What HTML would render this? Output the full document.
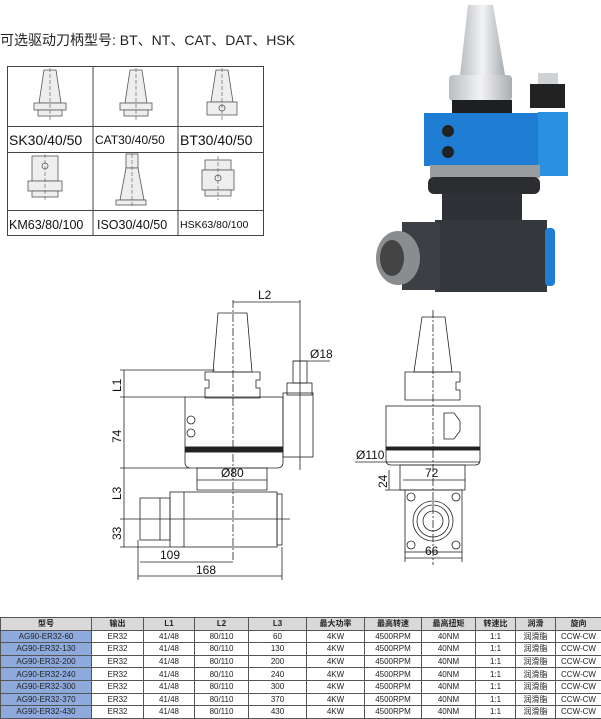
<!DOCTYPE html>
<html><head><meta charset="utf-8"><style>
body{margin:0;background:#fff;width:601px;height:719px;overflow:hidden;position:relative;font-family:"Liberation Sans","Noto Sans CJK SC",sans-serif}
svg{position:absolute;left:0;top:0}
table{position:absolute;left:0;top:617px;border-collapse:collapse;font-size:8px;width:601px;table-layout:fixed}
td{border:1px solid #555;text-align:center;height:11.6px;padding:0;line-height:11px;color:#222}
tr.h td{background:#d9d9d9;font-weight:bold}
td.m{background:#8eaadc}
</style></head><body>
<svg width="601" height="719" viewBox="0 0 601 719" font-family="Liberation Sans, Noto Sans CJK SC, sans-serif">
<defs><linearGradient id="sv" x1="0" x2="1"><stop offset="0" stop-color="#b9bdc1"/><stop offset="0.5" stop-color="#f2f3f4"/><stop offset="1" stop-color="#a9adb1"/></linearGradient></defs>
<text x="0" y="45" font-size="14" fill="#222">可选驱动刀柄型号: BT、NT、CAT、DAT、HSK</text>
<!-- grid -->
<g stroke="#444" fill="none" stroke-width="1">
<rect x="7.5" y="66.5" width="256" height="169"/>
<line x1="93" y1="66" x2="93" y2="236"/><line x1="178" y1="66" x2="178" y2="236"/>
<line x1="7" y1="126.5" x2="264" y2="126.5"/><line x1="7" y1="152.5" x2="264" y2="152.5"/><line x1="7" y1="210.5" x2="264" y2="210.5"/>
</g>
<g font-size="14" fill="#111"><text x="9" y="145">SK30/40/50</text><text x="180" y="145">BT30/40/50</text><text x="9" y="229" font-size="12.5">KM63/80/100</text></g>
<text x="95" y="144" font-size="12" fill="#111">CAT30/40/50</text>
<text x="97" y="229" font-size="12.5" fill="#111">ISO30/40/50</text>
<text x="180" y="228" font-size="10.5" fill="#111">HSK63/80/100</text>
<g fill="#eee" stroke="#555" stroke-width="0.8">
<path d="M44 70h12l5 33h-22z"/><rect x="34" y="103" width="32" height="7"/><rect x="38" y="110" width="24" height="6"/>
<path d="M130 70h12l5 33h-22z"/><rect x="120" y="103" width="32" height="7"/><rect x="124" y="110" width="24" height="6"/>
<path d="M216 70h12l5 32h-22z"/><rect x="207" y="102" width="30" height="13"/><circle cx="222" cy="108" r="3"/>
<rect x="32" y="156" width="26" height="25"/><circle cx="45" cy="166" r="3"/><rect x="28" y="181" width="34" height="10"/><rect x="32" y="191" width="26" height="6"/>
<rect x="126" y="154" width="12" height="14"/><path d="M126 168h12l6 32h-24z"/><rect x="116" y="200" width="30" height="5"/>
<rect x="205" y="160" width="26" height="10"/><rect x="202" y="170" width="32" height="20"/><circle cx="218" cy="178" r="3"/><rect x="205" y="190" width="26" height="6"/>
</g>
<g stroke="#555" stroke-width="0.6" stroke-dasharray="4 2"><line x1="50" y1="68" x2="50" y2="120"/><line x1="136" y1="68" x2="136" y2="120"/><line x1="222" y1="68" x2="222" y2="120"/><line x1="45" y1="154" x2="45" y2="200"/><line x1="132" y1="154" x2="132" y2="206"/><line x1="218" y1="156" x2="218" y2="200"/></g>
<!-- photo -->
<path d="M468 5h25l12 70h-45z" fill="url(#sv)"/>
<rect x="449" y="75" width="63" height="26" rx="4" fill="url(#sv)"/>
<rect x="452" y="100" width="60" height="14" fill="#1e1f22"/>
<rect x="538" y="73" width="20" height="12" fill="#cfd2d5"/>
<rect x="530" y="84" width="35" height="24" fill="#222"/>
<rect x="424" y="113" width="118" height="53" fill="#1f7ed3"/>
<rect x="538" y="112" width="30" height="64" fill="#2a90e0"/>
<circle cx="448" cy="131" r="6" fill="#222"/><circle cx="448" cy="152" r="6" fill="#222"/>
<rect x="430" y="165" width="110" height="13" fill="#9a9da0"/>
<rect x="428" y="177" width="112" height="17" rx="6" fill="#2b2d31"/>
<rect x="442" y="193" width="80" height="34" fill="#2e3136"/>
<rect x="435" y="220" width="112" height="72" fill="#34373c"/>
<rect x="545" y="228" width="10" height="58" rx="4" fill="#1f7ed3"/>
<rect x="402" y="222" width="38" height="68" fill="#3c3f44"/>
<ellipse cx="398" cy="258" rx="22" ry="27" fill="#8a8d90"/>
<ellipse cx="392" cy="258" rx="12" ry="18" fill="#444"/>
<!-- left drawing -->
<g stroke="#222" stroke-width="0.8" fill="none">
<line x1="233" y1="300" x2="233" y2="560" stroke-dasharray="8 2 2 2"/>
<line x1="233" y1="302" x2="300" y2="302"/><line x1="300" y1="300" x2="300" y2="470"/>
<path d="M218 313h29l5 59h-39z"/>
<path d="M205 372h55v8h-4v8h4v10h-55v-10h4v-8h-4z"/>
<rect x="185" y="397" width="98" height="50"/>
<circle cx="191" cy="420" r="4"/><circle cx="191" cy="433" r="4"/>
<rect x="185" y="447" width="98" height="5" fill="#222"/>
<path d="M185 452h98v10q0 6-6 6h-86q-6 0-6-6z"/>
<path d="M197 468h70v22h-70z"/>
<rect x="170" y="492" width="107" height="55"/>
<line x1="184" y1="492" x2="184" y2="547"/>
<rect x="277" y="494" width="5" height="51"/>
<rect x="140" y="498" width="30" height="42"/>
<line x1="160" y1="498" x2="160" y2="540"/>
<rect x="283" y="393" width="30" height="64"/>
<rect x="287" y="383" width="25" height="12"/>
<rect x="293" y="361" width="14" height="22"/>
<line x1="120" y1="519" x2="290" y2="519"/>
<line x1="124" y1="370" x2="124" y2="547"/>
<line x1="120" y1="370" x2="215" y2="370"/><line x1="120" y1="397" x2="185" y2="397"/><line x1="120" y1="468" x2="190" y2="468"/><line x1="120" y1="547" x2="170" y2="547"/>
<line x1="197" y1="480" x2="267" y2="480"/>
<line x1="138" y1="540" x2="138" y2="580"/><line x1="282" y1="547" x2="282" y2="580"/>
<line x1="140" y1="562" x2="233" y2="562"/><line x1="138" y1="576" x2="282" y2="576"/>
<line x1="293" y1="361" x2="330" y2="361"/>
</g>
<g font-size="12" fill="#111">
<text x="258" y="299">L2</text><text x="310" y="358">Ø18</text>
<text x="221" y="477">Ø80</text><text x="160" y="559">109</text><text x="196" y="574">168</text>
<text transform="translate(121,392) rotate(-90)">L1</text>
<text transform="translate(121,443) rotate(-90)">74</text>
<text transform="translate(121,500) rotate(-90)">L3</text>
<text transform="translate(121,540) rotate(-90)">33</text>
</g>
<!-- right drawing -->
<g stroke="#222" stroke-width="0.8" fill="none">
<line x1="433" y1="310" x2="433" y2="565" stroke-dasharray="8 2 2 2"/>
<path d="M422 317h23l7 55h-38z"/>
<path d="M405 372h55v10h-4v8h4v10h-55z"/>
<rect x="386" y="406" width="94" height="41"/>
<path d="M444 413h10l6 8v10l-6 8h-10z"/>
<rect x="386" y="447" width="94" height="3" fill="#222"/>
<path d="M386 450h94v10q0 5-5 5h-84q-5 0-5-5z"/>
<path d="M400 465h65v25h-65z"/>
<rect x="405" y="490" width="57" height="62"/>
<circle cx="433" cy="521" r="20"/><circle cx="433" cy="521" r="16"/><circle cx="433" cy="521" r="10"/>
<circle cx="411" cy="497" r="4"/><circle cx="456" cy="497" r="4"/><circle cx="411" cy="545" r="4"/><circle cx="456" cy="545" r="4"/>
<line x1="355" y1="462" x2="480" y2="462"/>
<line x1="403" y1="480" x2="465" y2="480"/>
<line x1="389" y1="470" x2="389" y2="490"/><line x1="385" y1="490" x2="405" y2="490"/>
<line x1="405" y1="552" x2="405" y2="562"/><line x1="462" y1="552" x2="462" y2="562"/>
<line x1="405" y1="558" x2="462" y2="558"/>
</g>
<g font-size="12" fill="#111">
<text x="356" y="459">Ø110</text><text x="425" y="477">72</text><text x="425" y="555">66</text>
<text transform="translate(387,488) rotate(-90)">24</text>
</g>
</svg>
<table>
<colgroup><col style="width:91px"><col style="width:52px"><col style="width:51px"><col style="width:54px"><col style="width:58px"><col style="width:58px"><col style="width:57px"><col style="width:54px"><col style="width:40px"><col style="width:40px"><col style="width:46px"></colgroup>
<tr class="h"><td>型号</td><td>输出</td><td>L1</td><td>L2</td><td>L3</td><td>最大功率</td><td>最高转速</td><td>最高扭矩</td><td>转速比</td><td>润滑</td><td>旋向</td></tr>
<tr><td class="m">AG90-ER32-60</td><td>ER32</td><td>41/48</td><td>80/110</td><td>60</td><td>4KW</td><td>4500RPM</td><td>40NM</td><td>1:1</td><td>润滑脂</td><td>CCW-CW</td></tr>
<tr><td class="m">AG90-ER32-130</td><td>ER32</td><td>41/48</td><td>80/110</td><td>130</td><td>4KW</td><td>4500RPM</td><td>40NM</td><td>1:1</td><td>润滑脂</td><td>CCW-CW</td></tr>
<tr><td class="m">AG90-ER32-200</td><td>ER32</td><td>41/48</td><td>80/110</td><td>200</td><td>4KW</td><td>4500RPM</td><td>40NM</td><td>1:1</td><td>润滑脂</td><td>CCW-CW</td></tr>
<tr><td class="m">AG90-ER32-240</td><td>ER32</td><td>41/48</td><td>80/110</td><td>240</td><td>4KW</td><td>4500RPM</td><td>40NM</td><td>1:1</td><td>润滑脂</td><td>CCW-CW</td></tr>
<tr><td class="m">AG90-ER32-300</td><td>ER32</td><td>41/48</td><td>80/110</td><td>300</td><td>4KW</td><td>4500RPM</td><td>40NM</td><td>1:1</td><td>润滑脂</td><td>CCW-CW</td></tr>
<tr><td class="m">AG90-ER32-370</td><td>ER32</td><td>41/48</td><td>80/110</td><td>370</td><td>4KW</td><td>4500RPM</td><td>40NM</td><td>1:1</td><td>润滑脂</td><td>CCW-CW</td></tr>
<tr><td class="m">AG90-ER32-430</td><td>ER32</td><td>41/48</td><td>80/110</td><td>430</td><td>4KW</td><td>4500RPM</td><td>40NM</td><td>1:1</td><td>润滑脂</td><td>CCW-CW</td></tr>
</table>
</body></html>
